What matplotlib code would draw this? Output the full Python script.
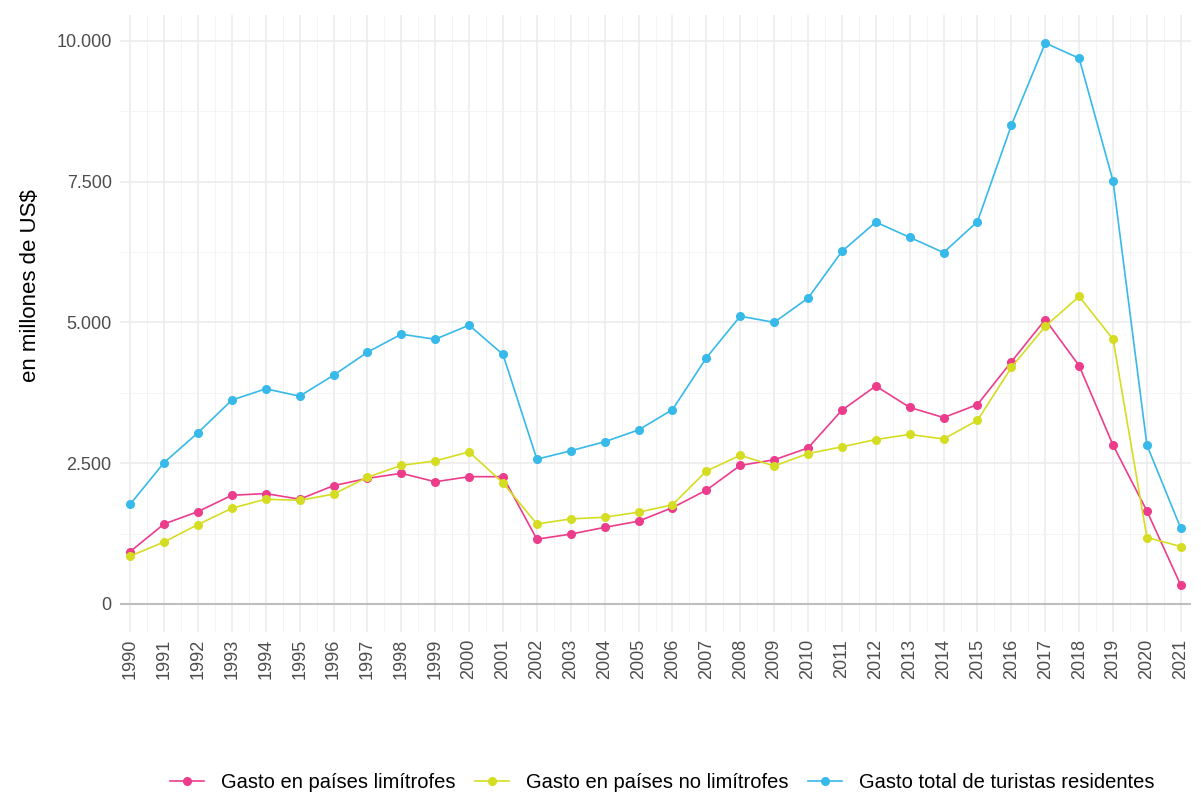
import numpy as np
import matplotlib
matplotlib.use("Agg")
import matplotlib.pyplot as plt
from matplotlib.ticker import FuncFormatter, MultipleLocator

plt.rcParams['font.family'] = ['Liberation Sans', 'DejaVu Sans']

# Datos (millones de US$)
anios = list(range(1990, 2022))
limitrofes = [930, 1420, 1640, 1930, 1960, 1860, 2100, 2230, 2320, 2170, 2260, 2260,
              1150, 1240, 1360, 1470, 1710, 2020, 2460, 2560, 2770, 3440, 3870, 3490,
              3310, 3540, 4300, 5050, 4230, 2820, 1650, 330]
no_limitrofes = [850, 1100, 1410, 1700, 1860, 1840, 1950, 2250, 2460, 2540, 2700, 2150,
                 1420, 1510, 1540, 1630, 1760, 2360, 2640, 2450, 2670, 2790, 2920, 3010,
                 2930, 3260, 4200, 4930, 5460, 4700, 1180, 1020]
total = [1770, 2510, 3040, 3620, 3820, 3690, 4060, 4470, 4790, 4700, 4950, 4430,
         2570, 2720, 2880, 3090, 3450, 4370, 5110, 5000, 5430, 6260, 6780, 6510,
         6240, 6790, 8500, 9960, 9690, 7510, 2820, 1340]

series = [
    ("Gasto en países limítrofes", limitrofes, "#EC3C8C"),
    ("Gasto en países no limítrofes", no_limitrofes, "#D5DD22"),
    ("Gasto total de turistas residentes", total, "#37B9EA"),
]

fig = plt.figure(figsize=(12.01, 7.94), dpi=100)
ax = fig.add_axes([120 / 1201, 1 - 632 / 794, 1071 / 1201, 617 / 794])

# grilla estilo ggplot minimal
ax.set_axisbelow(True)
ax.xaxis.set_major_locator(MultipleLocator(1))
ax.xaxis.set_minor_locator(MultipleLocator(0.5))
ax.yaxis.set_major_locator(MultipleLocator(2500))
ax.yaxis.set_minor_locator(MultipleLocator(1250))
ax.grid(which='major', color='#EBEBEB', linewidth=1.1)
ax.grid(which='minor', color='#F3F3F3', linewidth=0.6)
for s in ax.spines.values():
    s.set_visible(False)
ax.tick_params(which='both', length=0)

ax.axhline(0, color='#BEBEBE', linewidth=1.5, zorder=1)

for nombre, vals, col in series:
    ax.plot(anios, vals, color=col, linewidth=1.2, marker='o', markersize=5.5,
            label=nombre, zorder=3)

ax.set_xlim(1989.7, 2021.3)
ax.set_ylim(-498, 10458)
ax.set_xticks(anios)
ax.set_xticklabels([str(a) for a in anios], rotation=90, fontsize=13, color='#4D4D4D')
ax.tick_params(axis='x', pad=5)
ax.tick_params(axis='y', labelsize=13, labelcolor='#4D4D4D', pad=6)
ax.yaxis.set_major_formatter(FuncFormatter(lambda v, p: f"{int(v):,}".replace(",", ".")))

ax.set_ylabel("en millones de US$", fontsize=16, color='black')
ax.yaxis.set_label_coords(-0.074, 0.562)

fig.legend(loc='center', bbox_to_anchor=(662 / 1201, 1 - 783 / 794), ncol=3,
           frameon=False, fontsize=14.5, handlelength=1.7, columnspacing=0.95,
           handletextpad=0.85)

fig.savefig("out.png", dpi=100)
